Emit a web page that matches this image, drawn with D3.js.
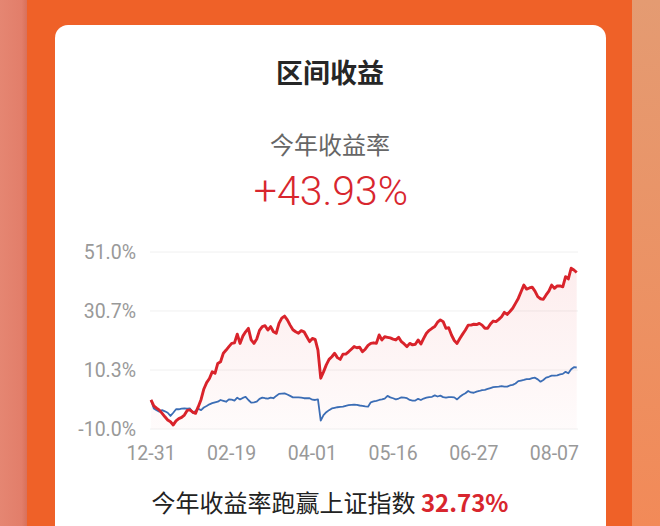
<!DOCTYPE html>
<html lang="zh">
<head>
<meta charset="utf-8">
<title>区间收益</title>
<style>
  html, body { margin: 0; padding: 0; background: #ef6128; }
  svg { display: block; }
</style>
</head>
<body>
<div id="chart"></div>
<script src="https://d3js.org/d3.v7.min.js"></script>
<script>
// trading-day index of each x tick, and its label
var xTickIdx = [0, 29, 58, 87, 116, 145];
var xTickLabels = ["12-31", "02-19", "04-01", "05-16", "06-27", "08-07"];
var yTicks = [-10, 10.33, 30.67, 51];
var yTickLabels = ["-10.0%", "10.3%", "30.7%", "51.0%"];

// fund cumulative return (%), one value per trading day
var fund = [
  0, -2.0, -2.8, -3.5, -4.6, -5.8, -6.9, -7.5, -8.6, -7.2,
  -6.4, -6.0, -5.2, -3.6, -3.4, -4.2, -4.6, -2.3, 0.2, 3.8,
  6.0, 7.4, 9.7, 9.2, 12.6, 13.2, 16.1, 17.2, 18.4, 19.5,
  19.7, 22.7, 19.5, 22.0, 23.5, 24.7, 20.7, 19.5, 21.0, 24.0,
  25.3, 25.6, 24.1, 25.3, 23.5, 23.0, 26.4, 28.2, 28.9, 27.6,
  25.8, 24.2, 23.5, 23.0, 23.9, 23.5, 21.8, 20.1, 21.2, 20.9,
  17.2, 7.5, 9.7, 12.1, 14.0, 14.9, 16.1, 14.6, 14.0, 15.8,
  15.8, 16.6, 17.5, 18.4, 18.0, 18.2, 16.6, 17.5, 18.8, 19.5,
  19.7, 19.5, 22.4, 20.7, 21.8, 21.6, 21.4, 21.0, 20.7, 21.6,
  20.1, 19.3, 18.4, 19.5, 19.0, 19.2, 20.7, 19.3, 21.2, 23.0,
  24.0, 24.7, 25.3, 26.8, 27.6, 27.0, 24.7, 24.9, 22.4, 20.5,
  19.5, 21.2, 22.7, 24.1, 25.8, 25.8, 26.1, 26.0, 26.4, 25.8,
  24.7, 24.7, 26.2, 27.2, 27.0, 27.8, 28.7, 30.2, 29.5, 30.5,
  31.6, 33.3, 35.0, 37.3, 39.6, 38.2, 38.6, 38.9, 37.5, 35.6,
  34.9, 34.7, 36.2, 37.5, 39.6, 38.5, 39.3, 39.3, 39.0, 42.5,
  41.7, 45.4, 44.8, 43.93
];

// 上证指数 cumulative return (%)
var index = [
  0, -2.9, -3.5, -4.0, -3.5, -3.9, -4.4, -5.5, -4.4, -3.2,
  -3.2, -3.0, -2.9, -3.0, -2.9, -4.4, -3.8, -3.0, -3.5, -2.6,
  -2.1, -1.5, -1.1, -0.8, -0.6, 0, -0.3, -0.6, 0.2, 0.1,
  -0.2, 0.8, 0.2, 0.7, 1.1, 0, -0.9, -0.8, -0.6, 0.4,
  0.8, 0.6, 0.5, 0.8, 0.6, 1.4, 2.1, 2.2, 2.3, 1.9,
  1.4, 0.9, 0.9, 0.9, 0.8, 0.6, 0.6, 0.6, 0.1, 0,
  0.2, -7.1, -5.2, -4.2, -3.5, -2.9, -2.7, -2.5, -2.4, -2.3,
  -2.0, -1.8, -1.7, -1.6, -1.7, -1.9, -2.0, -2.2, -2.3, -0.8,
  -0.5, -0.3, 0, 0.2, 0.5, 1.4, 0.9, 0.6, 0.2, 0.5,
  0.9, 0.8, 0.6, 0, -0.2, -0.2, 0.4, 0, 0.5, 0.8,
  1.0, 1.1, 1.6, 1.2, 1.5, 1.0, 0.8, 1.0, 1.0, 0.9,
  0.2, 1.1, 1.8, 2.3, 3.1, 2.6, 2.5, 2.9, 3.1, 3.4,
  3.5, 3.8, 4.1, 4.4, 4.5, 4.6, 4.8, 4.6, 4.6, 5.0,
  5.2, 5.7, 6.5, 6.7, 6.9, 7.2, 7.2, 7.5, 7.7, 7.1,
  6.3, 6.9, 7.7, 8.0, 8.4, 8.4, 8.5, 8.8, 9.0, 9.7,
  9.2, 10.6, 11.3, 11.2
];

var width = 660, height = 526;
var cjk = "'Noto Sans CJK SC', 'Noto Sans', sans-serif";
var num = "Roboto, 'Noto Sans', sans-serif";

var svg = d3.select("#chart").append("svg")
    .attr("width", width)
    .attr("height", height);

var defs = svg.append("defs");
var lg = defs.append("linearGradient").attr("id", "leftStrip").attr("x1", 0).attr("y1", 0).attr("x2", 1).attr("y2", 0);
lg.append("stop").attr("offset", "0%").attr("stop-color", "#e58672");
lg.append("stop").attr("offset", "80%").attr("stop-color", "#e27e6a");
lg.append("stop").attr("offset", "100%").attr("stop-color", "#d8705a");
var rg = defs.append("linearGradient").attr("id", "rightStrip").attr("x1", 0).attr("y1", 0).attr("x2", 0).attr("y2", 1);
rg.append("stop").attr("offset", "0%").attr("stop-color", "#e49b72");
rg.append("stop").attr("offset", "100%").attr("stop-color", "#f28a58");
var ag = defs.append("linearGradient").attr("id", "areaFill").attr("x1", 0).attr("y1", 0).attr("x2", 0).attr("y2", 1);
ag.append("stop").attr("offset", "0%").attr("stop-color", "#e8383d").attr("stop-opacity", 0.09);
ag.append("stop").attr("offset", "100%").attr("stop-color", "#e8383d").attr("stop-opacity", 0.02);

// background
svg.append("rect").attr("width", width).attr("height", height).attr("fill", "#ef6128");
svg.append("rect").attr("x", 0).attr("y", 0).attr("width", 27).attr("height", height).attr("fill", "url(#leftStrip)");
svg.append("rect").attr("x", 632).attr("y", 0).attr("width", 28).attr("height", height).attr("fill", "url(#rightStrip)");

// card
svg.append("rect")
    .attr("x", 55).attr("y", 25)
    .attr("width", 551).attr("height", 540)
    .attr("rx", 13)
    .attr("fill", "#fff");

svg.append("text")
    .attr("x", 330).attr("y", 83)
    .attr("text-anchor", "middle")
    .style("font-family", cjk).style("font-size", "27px").style("font-weight", 700)
    .attr("fill", "#262626")
    .text("区间收益");

svg.append("text")
    .attr("x", 330).attr("y", 154)
    .attr("text-anchor", "middle")
    .style("font-family", cjk).style("font-size", "24px")
    .attr("fill", "#666")
    .text("今年收益率");

svg.append("text")
    .attr("x", 331).attr("y", 205)
    .attr("text-anchor", "middle")
    .style("font-family", num).style("font-size", "41px").style("font-weight", 300)
    .attr("fill", "#d8262e")
    .text("+43.93%");

// chart
var x = d3.scaleLinear().domain([0, fund.length - 1]).range([151, 576.7]);
var y = d3.scaleLinear().domain([-10, 51]).range([429, 252]);

svg.append("g")
    .selectAll("line")
    .data(yTicks)
    .enter()
    .append("line")
    .attr("x1", 150).attr("x2", 578)
    .attr("y1", function(d) { return y(d); })
    .attr("y2", function(d) { return y(d); })
    .attr("stroke", "#f0f0f0")
    .attr("stroke-width", 1);

svg.append("g")
    .selectAll("text")
    .data(yTicks)
    .enter()
    .append("text")
    .attr("x", 136)
    .attr("y", function(d) { return y(d) + 7; })
    .attr("text-anchor", "end")
    .style("font-family", num).style("font-size", "19.5px")
    .attr("fill", "#999")
    .text(function(d, i) { return yTickLabels[i]; });

svg.append("g")
    .selectAll("text")
    .data(xTickIdx)
    .enter()
    .append("text")
    .attr("x", function(d) { return x(d); })
    .attr("y", 460)
    .attr("text-anchor", "middle")
    .style("font-family", num).style("font-size", "19.5px")
    .attr("fill", "#999")
    .text(function(d, i) { return xTickLabels[i]; });

svg.append("path")
    .datum(fund)
    .attr("fill", "url(#areaFill)")
    .attr("d", d3.area()
        .x(function(d, i) { return x(i); })
        .y0(y(-10))
        .y1(function(d) { return y(d); }));

svg.append("path")
    .datum(index)
    .attr("fill", "none")
    .attr("stroke", "#3b6db5")
    .attr("stroke-width", 1.8)
    .attr("stroke-linejoin", "round")
    .attr("d", d3.line()
        .x(function(d, i) { return x(i); })
        .y(function(d) { return y(d); }));

svg.append("path")
    .datum(fund)
    .attr("fill", "none")
    .attr("stroke", "#d9232b")
    .attr("stroke-width", 2.9)
    .attr("stroke-linejoin", "round")
    .attr("d", d3.line()
        .x(function(d, i) { return x(i); })
        .y(function(d) { return y(d); }));

var foot = svg.append("text")
    .attr("x", 330).attr("y", 512)
    .attr("text-anchor", "middle")
    .style("font-family", cjk).style("font-size", "24px")
    .attr("fill", "#222");
foot.append("tspan").text("今年收益率跑赢上证指数 ");
foot.append("tspan")
    .attr("fill", "#d8262e")
    .style("font-weight", 700)
    .text("32.73%");
</script>
</body>
</html>
